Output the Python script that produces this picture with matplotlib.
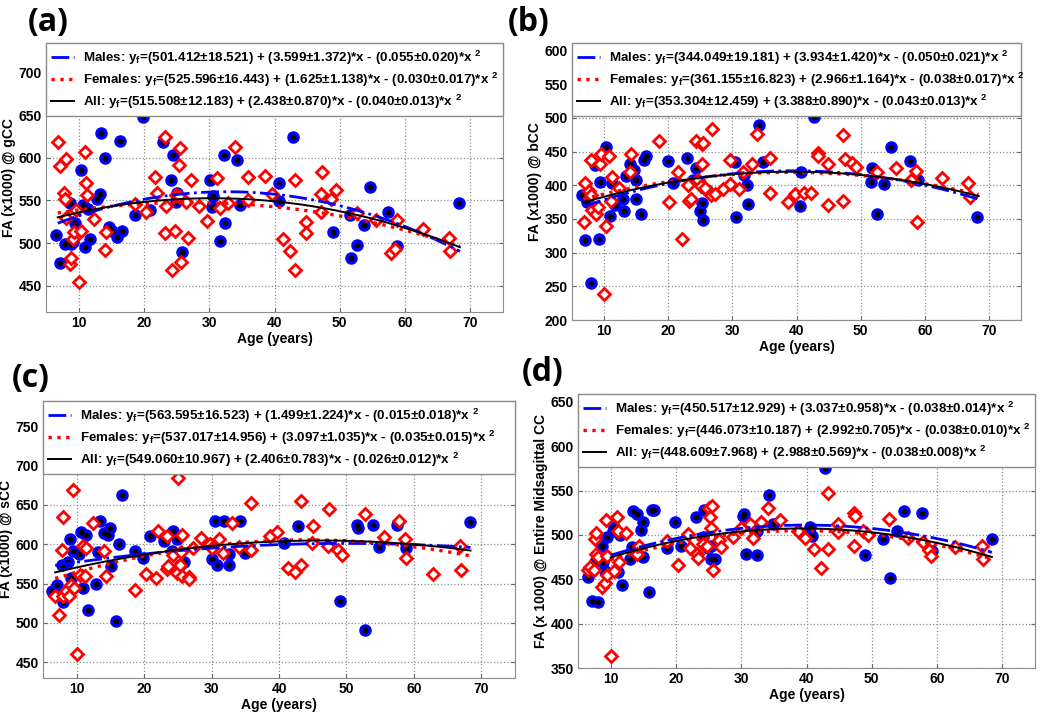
import numpy as np
import matplotlib
matplotlib.use("Agg")
import matplotlib.pyplot as plt

plt.rcParams['font.family'] = ['Liberation Sans', 'DejaVu Sans']
plt.rcParams['font.weight'] = 'bold'
plt.rcParams['mathtext.fontset'] = 'custom'
plt.rcParams['mathtext.rm'] = 'Liberation Sans:bold'
plt.rcParams['mathtext.bf'] = 'Liberation Sans:bold'

# ---- panel (a): gCC ----
a_m_age = [6.6, 7.2, 7.9, 8.7, 8.9, 9.2, 9.4, 10.3, 10.7, 11.0, 11.4, 11.7, 12.8, 13.2, 13.5, 14.1, 14.6,
           15.1, 15.8, 16.3, 16.6, 18.7, 19.9, 20.9, 22.9, 24.1, 24.4, 24.9, 25.1, 25.8, 30.1, 30.6, 30.5,
           31.7, 32.2, 32.4, 34.2, 34.7, 40.7, 40.7, 42.8, 48.9, 51.5, 51.7, 52.7, 53.7, 54.6, 57.4, 58.8, 68.3]
a_m_fa = [509, 477, 499, 547, 499, 501, 524, 586, 545, 495, 540, 505, 552, 558, 629, 600, 519,
          514, 507, 620, 514, 533, 648, 539, 619, 574, 604, 548, 559, 489, 574, 555, 542,
          502, 603, 523, 597, 545, 570, 549, 624, 513, 533, 482, 498, 521, 566, 536, 497, 547]
a_f_age = [6.9, 7.2, 8.1, 7.7, 7.9, 8.0, 8.6, 8.9, 9.2, 9.3, 9.6, 10.0, 10.4, 10.9, 11.2, 11.3, 12.4,
           14.2, 14.1, 18.6, 20.3, 21.7, 22.0, 23.2, 23.4, 23.2, 24.3, 24.7, 24.9, 25.3, 25.4, 25.5,
           25.7, 26.5, 26.7, 27.2, 28.5, 29.7, 31.2, 31.6, 32.9, 34.0, 35.9, 36.0, 38.6, 39.6, 41.3,
           42.3, 43.2, 43.2, 44.8, 44.8, 47.2, 47.1, 47.1, 48.7, 49.4, 52.6, 55.5, 57.9, 58.5, 58.7,
           62.7, 66.8, 66.9]
a_f_fa = [619, 590, 599, 559, 552, 530, 475, 483, 505, 513, 539, 454, 514, 607, 570, 556, 528,
          513, 492, 546, 536, 578, 559, 625, 543, 512, 468, 514, 557, 592, 555, 612,
          478, 548, 506, 574, 543, 526, 577, 541, 547, 613, 578, 551, 579, 558, 505,
          491, 574, 468, 525, 512, 583, 558, 537, 552, 562, 535, 527, 488, 493, 527,
          517, 506, 491]

# ---- panel (b): bCC ----
b_m_age = [6.5, 7.0, 7.3, 7.9, 8.6, 9.2, 9.4, 10.3, 10.9, 11.3, 11.7, 12.9, 13.1, 13.4, 14.0, 14.7,
           15.0, 15.0, 15.8, 16.3, 16.6, 19.9, 20.8, 23.0, 24.3, 25.0, 25.2, 25.4, 26.1, 23.9, 30.4,
           30.6, 31.8, 32.3, 32.4, 34.2, 34.8, 40.6, 40.7, 42.8, 51.7, 51.6, 52.6, 53.7, 54.8, 57.7,
           59.0, 68.2]
b_m_fa = [385, 319, 375, 255, 430, 320, 405, 456, 354, 404, 371, 380, 362, 413, 432, 422,
          407, 380, 358, 438, 444, 436, 404, 440, 425, 362, 373, 349, 393, 407, 435,
          353, 415, 400, 372, 490, 434, 369, 420, 501, 426, 405, 358, 402, 457, 436,
          407, 353]
b_f_age = [6.8, 7.1, 7.6, 7.9, 7.9, 8.1, 8.8, 9.0, 9.3, 9.5, 10.3, 10.0, 10.8, 11.2, 11.1, 12.3,
           14.0, 14.2, 18.6, 20.1, 21.6, 22.1, 23.1, 23.2, 23.5, 24.3, 24.7, 25.1, 25.2, 25.3, 25.5,
           25.8, 26.6, 26.8, 27.3, 28.5, 29.7, 29.7, 31.1, 31.7, 33.0, 33.9, 35.9, 35.9, 38.7, 39.7,
           41.2, 42.3, 43.3, 43.3, 44.9, 44.9, 47.2, 47.3, 47.5, 48.7, 49.3, 52.6, 55.5, 57.8, 58.6,
           58.8, 62.7, 66.7, 67.0]
b_f_fa = [346, 404, 391, 437, 385, 363, 357, 367, 431, 447, 340, 239, 444, 412, 377, 396,
          419, 447, 466, 375, 420, 320, 400, 377, 379, 466, 407, 399, 432, 461, 463,
          396, 386, 483, 387, 395, 438, 402, 394, 419, 431, 476, 440, 389, 375, 387,
          389, 388, 448, 443, 432, 371, 377, 475, 439, 433, 427, 420, 426, 407, 421,
          345, 410, 404, 383]

# ---- panel (c): sCC ----
c_m_age = [6.4, 7.1, 7.8, 8.0, 8.7, 9.0, 9.4, 9.2, 10.4, 10.6, 11.0, 11.4, 11.7, 12.9, 13.2, 13.5,
           14.0, 14.6, 15.0, 15.1, 15.8, 16.3, 16.7, 18.7, 19.9, 20.8, 23.0, 24.1, 24.3, 24.9, 25.3,
           25.9, 30.1, 30.5, 30.8, 31.8, 32.6, 32.6, 34.2, 34.9, 40.8, 42.8, 49.0, 51.5, 51.7, 52.7,
           53.9, 54.8, 57.5, 58.9, 68.4]
c_m_fa = [540, 548, 573, 526, 577, 606, 592, 557, 587, 615, 544, 612, 516, 549, 590, 629,
          614, 612, 620, 572, 502, 600, 662, 591, 583, 610, 604, 592, 617, 606, 574,
          577, 581, 629, 574, 629, 587, 574, 629, 589, 601, 623, 528, 625, 620, 491,
          625, 597, 625, 595, 628]
c_f_age = [6.8, 7.4, 7.8, 7.9, 8.0, 8.4, 8.9, 9.1, 9.4, 9.6, 10.0, 10.5, 11.0, 11.3, 11.4, 12.4,
           14.1, 14.3, 18.7, 20.3, 21.7, 22.1, 23.4, 23.4, 23.6, 24.3, 25.0, 24.8, 25.3, 25.4, 25.6,
           25.6, 26.7, 26.7, 27.3, 28.5, 29.8, 30.0, 31.1, 31.7, 33.0, 34.0, 35.9, 35.9, 38.7, 39.7,
           41.3, 42.3, 43.2, 43.3, 45.0, 44.9, 47.2, 47.4, 48.7, 49.3, 52.7, 55.5, 57.8, 58.7, 58.8,
           62.8, 66.9, 67.0]
c_f_fa = [534, 510, 593, 635, 534, 540, 534, 548, 669, 545, 461, 561, 598, 560, 595, 627,
          591, 559, 542, 562, 557, 617, 610, 568, 572, 586, 684, 564, 573, 590, 612,
          559, 558, 556, 595, 608, 600, 595, 606, 589, 627, 597, 653, 593, 611, 615,
          570, 565, 655, 574, 623, 601, 598, 645, 593, 586, 638, 609, 629, 607, 583,
          562, 598, 567]

# ---- panel (d): entire midsagittal CC ----
d_m_age = [6.5, 7.1, 8.0, 7.6, 8.7, 8.9, 9.2, 9.5, 10.3, 10.5, 11.1, 11.5, 11.8, 12.9, 13.3, 13.5,
           14.1, 14.7, 14.9, 15.0, 15.9, 16.4, 16.7, 18.7, 19.9, 20.8, 23.0, 24.1, 24.3, 24.9, 25.3,
           25.3, 26.0, 30.2, 30.5, 30.7, 32.4, 32.4, 34.3, 34.8, 40.6, 40.8, 42.8, 49.0, 51.7, 52.8,
           53.8, 54.9, 57.7, 59.2, 68.4]
d_m_fa = [453, 426, 424, 470, 488, 470, 459, 498, 504, 509, 458, 500, 444, 473, 486, 527,
          524, 506, 515, 475, 436, 528, 528, 485, 515, 488, 520, 498, 528, 485, 473,
          488, 473, 521, 524, 478, 505, 477, 545, 512, 509, 499, 576, 477, 495, 452,
          505, 527, 525, 482, 495]
d_f_age = [6.6, 6.9, 7.4, 7.6, 7.8, 7.8, 8.1, 8.6, 9.1, 9.3, 9.5, 9.5, 10.1, 10.5, 11.0, 11.1,
           11.3, 12.4, 14.3, 14.1, 18.7, 20.3, 21.8, 22.1, 23.3, 23.4, 24.1, 25.1, 25.5, 25.2, 25.3,
           24.7, 25.7, 26.6, 26.9, 28.7, 29.9, 31.3, 31.8, 33.1, 34.1, 36.0, 38.7, 39.8, 41.2, 42.2,
           43.3, 43.3, 44.9, 44.9, 47.3, 47.5, 47.2, 48.7, 49.4, 52.6, 55.5, 57.8, 58.7, 59.0, 62.8,
           66.9, 67.1]
d_f_fa = [461, 464, 460, 495, 502, 479, 475, 441, 446, 517, 476, 455, 363, 459, 520, 504,
          470, 502, 488, 478, 493, 466, 501, 485, 478, 474, 490, 530, 533, 520, 508,
          488, 460, 494, 486, 498, 508, 512, 497, 515, 530, 517, 505, 497, 484, 463,
          547, 484, 512, 503, 525, 521, 488, 504, 500, 518, 497, 492, 483, 476, 486,
          488, 473]

# quadratic fit coefficients shown in the legends (highest power first)
a_fit = {'Males': [-0.055, 3.599, 501.412], 'Females': [-0.030, 1.625, 525.596], 'All': [-0.040, 2.438, 515.508]}
b_fit = {'Males': [-0.050, 3.934, 344.049], 'Females': [-0.038, 2.966, 361.155], 'All': [-0.043, 3.388, 353.304]}
c_fit = {'Males': [-0.015, 1.499, 563.595], 'Females': [-0.035, 3.097, 537.017], 'All': [-0.026, 2.406, 549.060]}
d_fit = {'Males': [-0.038, 3.037, 450.517], 'Females': [-0.038, 2.992, 446.073], 'All': [-0.038, 2.988, 448.609]}

a_leg = ["Males: y$_\\mathbf{f}$=(501.412\u00b118.521) + (3.599\u00b11.372)*x - (0.055\u00b10.020)*x $^\\mathbf{2}$",
         "Females: y$_\\mathbf{f}$=(525.596\u00b116.443) + (1.625\u00b11.138)*x - (0.030\u00b10.017)*x $^\\mathbf{2}$",
         "All: y$_\\mathbf{f}$=(515.508\u00b112.183) + (2.438\u00b10.870)*x - (0.040\u00b10.013)*x $^\\mathbf{2}$"]
b_leg = ["Males: y$_\\mathbf{f}$=(344.049\u00b119.181) + (3.934\u00b11.420)*x - (0.050\u00b10.021)*x $^\\mathbf{2}$",
         "Females: y$_\\mathbf{f}$=(361.155\u00b116.823) + (2.966\u00b11.164)*x - (0.038\u00b10.017)*x $^\\mathbf{2}$",
         "All: y$_\\mathbf{f}$=(353.304\u00b112.459) + (3.388\u00b10.890)*x - (0.043\u00b10.013)*x $^\\mathbf{2}$"]
c_leg = ["Males: y$_\\mathbf{f}$=(563.595\u00b116.523) + (1.499\u00b11.224)*x - (0.015\u00b10.018)*x $^\\mathbf{2}$",
         "Females: y$_\\mathbf{f}$=(537.017\u00b114.956) + (3.097\u00b11.035)*x - (0.035\u00b10.015)*x $^\\mathbf{2}$",
         "All: y$_\\mathbf{f}$=(549.060\u00b110.967) + (2.406\u00b10.783)*x - (0.026\u00b10.012)*x $^\\mathbf{2}$"]
d_leg = ["Males: y$_\\mathbf{f}$=(450.517\u00b112.929) + (3.037\u00b10.958)*x - (0.038\u00b10.014)*x $^\\mathbf{2}$",
         "Females: y$_\\mathbf{f}$=(446.073\u00b110.187) + (2.992\u00b10.705)*x - (0.038\u00b10.010)*x $^\\mathbf{2}$",
         "All: y$_\\mathbf{f}$=(448.609\u00b17.968) + (2.988\u00b10.569)*x - (0.038\u00b10.008)*x $^\\mathbf{2}$"]

W, H = 1050, 714
fig = plt.figure(figsize=(W / 100, H / 100), dpi=100)


def px_axes(l, t, r, b):
    return fig.add_axes([l / W, 1 - b / H, (r - l) / W, (b - t) / H])


def panel(ax, m_age, m_fa, f_age, f_fa, fit, leg, ylim, yticks, ylabel, x0):
    ax.set_xlim(5, 75)
    ax.set_ylim(*ylim)
    ax.set_xticks(range(10, 71, 10))
    ax.set_yticks(yticks)
    ax.grid(True, ls=':', color='0.55', lw=0.9)
    ax.set_axisbelow(True)
    ax.tick_params(direction='in', top=True, right=True, labelsize=10, length=3, color='0.4', pad=3)
    for s in ax.spines.values():
        s.set_color('0.55')
    # data
    ax.plot(m_age, m_fa, 'o', ms=8, mfc='#0000ff', mec='#0000ff', zorder=3)
    ax.plot(m_age, m_fa, 'o', ms=3.2, mfc='k', mec='k', zorder=3)
    ax.plot(f_age, f_fa, 'D', ms=6.3, mfc='white', mec='#ff0000', mew=2, zorder=3)
    xx = np.linspace(x0, 68.4, 200)
    l1, = ax.plot(xx, np.polyval(fit['Males'], xx), color='#0000ff', ls='-.', lw=2, zorder=4)
    l2, = ax.plot(xx, np.polyval(fit['Females'], xx), color='#ff0000', ls=':', lw=2.4, zorder=4)
    l3, = ax.plot(xx, np.polyval(fit['All'], xx), color='k', ls='-', lw=1.4, zorder=4)
    lg = ax.legend([l1, l2, l3], leg, loc='upper left', bbox_to_anchor=(0, 1, 1, 0), mode='expand',
                   borderaxespad=0, fontsize=9.6, handlelength=1.7, handletextpad=0.7, fancybox=False,
                   framealpha=1, edgecolor='0.55', labelspacing=0.3, borderpad=0.4)
    lg.get_frame().set_linewidth(1.0)
    ax.set_xlabel('Age (years)', fontsize=10, fontweight='bold', labelpad=1)
    ax.set_ylabel(ylabel, fontsize=10, fontweight='bold', labelpad=2)


ax_a = px_axes(46, 43, 503, 312)
panel(ax_a, a_m_age, a_m_fa, a_f_age, a_f_fa, a_fit, a_leg, (419, 735), range(450, 701, 50),
      'FA (x1000) @ gCC', 6.8)
ax_b = px_axes(572, 43, 1021, 320)
panel(ax_b, b_m_age, b_m_fa, b_f_age, b_f_fa, b_fit, b_leg, (200, 611), range(200, 601, 50),
      'FA (x1000) @ bCC', 6.8)
ax_c = px_axes(43, 401, 515, 678)
panel(ax_c, c_m_age, c_m_fa, c_f_age, c_f_fa, c_fit, c_leg, (430, 782), range(450, 751, 50),
      'FA (x1000) @ sCC', 6.8)
ax_d = px_axes(578, 394, 1035, 668)
panel(ax_d, d_m_age, d_m_fa, d_f_age, d_f_fa, d_fit, d_leg, (350, 659), range(350, 651, 50),
      'FA (x 1000) @ Entire Midsagittal CC', 10.0)

for lbl, x, y in [('(a)', 28, 22), ('(b)', 508, 22), ('(c)', 12, 378), ('(d)', 522, 372)]:
    fig.text(x / W, 1 - y / H, lbl, fontsize=23, fontweight='bold', family='Open Sans',
             va='center', ha='left')

fig.savefig('out.png', dpi=100)
